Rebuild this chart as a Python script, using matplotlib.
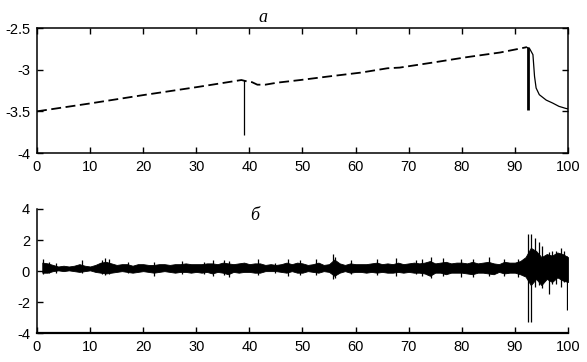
import numpy as np
import matplotlib
matplotlib.use('Agg')
import matplotlib.pyplot as plt

plt.rcParams['font.family'] = ['Liberation Sans']
plt.rcParams['axes.unicode_minus'] = False

# panel a: slow trend
trend_x = [0, 10, 20, 30, 33, 38.5, 39.5, 40.5, 41.5, 43, 45.2, 49.6, 54.7, 61, 66,
           68.3, 74.5, 80.9, 87.2, 91, 92.2]
trend_y = [-3.50, -3.405, -3.305, -3.21, -3.18, -3.124, -3.14, -3.15, -3.18, -3.18,
           -3.156, -3.124, -3.083, -3.035, -2.983, -2.975, -2.915, -2.85, -2.794,
           -2.746, -2.73]
decay_x = [92.2, 92.8, 93.4, 93.7, 94.0, 94.6, 95.9, 97.1, 98.3, 99.6, 100]
decay_y = [-2.73, -2.75, -2.82, -3.08, -3.22, -3.30, -3.365, -3.40, -3.44, -3.465, -3.47]
jump_x = [38.9, 92.4]
jump_lo = [-3.787, -3.485]
jump_hi = [-3.124, -2.73]
jump_w = [0.9, 2.0]

# panel b: envelope of the residual signal, one value per unit of x
noise_x = list(range(1, 101))
noise_hi = [0.55, 0.5, 0.4, 0.3, 0.35, 0.3, 0.35, 0.45, 0.35, 0.3,
            0.4, 0.55, 0.6, 0.5, 0.4, 0.45, 0.45, 0.35, 0.45, 0.45,
            0.4, 0.4, 0.45, 0.45, 0.4, 0.45, 0.45, 0.5, 0.45, 0.45,
            0.45, 0.5, 0.5, 0.45, 0.55, 0.5, 0.45, 0.5, 0.55, 0.45,
            0.5, 0.5, 0.4, 0.45, 0.4, 0.45, 0.55, 0.45, 0.55, 0.5,
            0.4, 0.45, 0.55, 0.4, 0.45, 0.75, 0.5, 0.4, 0.5, 0.45,
            0.45, 0.45, 0.5, 0.55, 0.45, 0.5, 0.45, 0.55, 0.45, 0.5,
            0.55, 0.5, 0.55, 0.65, 0.5, 0.55, 0.6, 0.5, 0.55, 0.55,
            0.5, 0.6, 0.5, 0.55, 0.6, 0.5, 0.45, 0.6, 0.55, 0.55,
            0.65, 0.9, 1.5, 1.3, 0.9, 1.1, 1.0, 1.2, 1.1, 0.9]
noise_lo = [-0.1, -0.1, 0.0, 0.05, 0.0, 0.05, 0.0, -0.05, 0.0, 0.05,
            -0.05, -0.1, -0.15, -0.1, -0.05, 0.0, -0.05, -0.1, -0.05, 0.0,
            -0.05, -0.1, -0.05, 0.0, -0.05, -0.1, -0.05, -0.05, -0.1, -0.05,
            -0.1, -0.05, -0.15, -0.05, -0.1, -0.2, -0.05, -0.1, -0.05, -0.05,
            -0.1, -0.1, 0.0, 0.0, 0.0, -0.05, -0.1, 0.0, -0.1, -0.1,
            0.0, -0.05, -0.1, 0.0, -0.05, -0.3, -0.1, 0.0, -0.1, -0.05,
            -0.05, -0.1, -0.05, -0.1, -0.05, -0.1, -0.1, -0.05, -0.1, -0.05,
            -0.1, -0.1, -0.15, -0.3, -0.1, -0.1, -0.2, -0.1, -0.1, -0.1,
            -0.15, -0.2, -0.1, -0.1, -0.15, -0.2, -0.05, -0.15, -0.1, -0.1,
            -0.2, -0.35, -0.9, -0.5, -0.9, -0.5, -0.7, -0.4, -0.6, -0.7]
# isolated spikes (hairlines) in panel b
spike_x = [1.2, 2.2, 3.6, 8.5, 12.3, 12.8, 13.6, 17.2, 22.1, 27.4, 31.5, 33.2,
           35.3, 36.1, 41.6, 44.8, 47.2, 49.5, 52.6, 55.8, 56.2, 59.1, 64.0,
           67.6, 71.3, 72.6, 74.2, 76.4, 79.8, 82.2, 85.1, 88.0, 90.6,
           92.4, 93.0, 93.8, 94.6, 95.2, 96.5, 97.0, 97.8, 98.6, 99.3, 99.8]
spike_lo = [-0.2, -0.15, -0.1, -0.1, -0.2, -0.25, -0.2, -0.15, -0.3, -0.2, -0.2, -0.3,
            -0.25, -0.35, -0.25, -0.15, -0.3, -0.25, -0.25, -0.5, -0.45, -0.2, -0.25,
            -0.3, -0.2, -0.3, -0.45, -0.3, -0.35, -0.35, -0.3, -0.3, -0.35,
            -3.25, -3.25, -1.0, -0.9, -1.1, -1.45, -0.8, -0.8, -1.0, -0.7, -2.5]
spike_hi = [0.75, 0.6, 0.5, 0.7, 0.7, 0.85, 0.75, 0.6, 0.6, 0.65, 0.6, 0.7,
            0.7, 0.65, 0.75, 0.55, 0.75, 0.7, 0.75, 1.1, 0.9, 0.7, 0.8,
            0.85, 0.7, 0.8, 0.9, 0.85, 0.75, 0.8, 0.9, 0.8, 0.8,
            2.4, 2.4, 2.15, 1.9, 1.6, 1.2, 1.3, 1.3, 1.5, 1.3, 1.0]

fig = plt.figure(figsize=(5.87, 3.62), dpi=100)
ax1 = fig.add_axes([0.063, 0.5773, 0.9046, 0.3453])
ax2 = fig.add_axes([0.063, 0.0793, 0.9046, 0.3434])

# --- panel a
ax1.plot(trend_x, trend_y, color='black', lw=1.3, linestyle=(0, (5.5, 2.5)))
ax1.plot(decay_x, decay_y, color='black', lw=0.9)
ax1.vlines(jump_x, jump_lo, jump_hi, colors='black', linewidths=jump_w)
ax1.set_xlim(0, 100)
ax1.set_ylim(-4, -2.5)
ax1.set_xticks(np.arange(0, 101, 10))
ax1.set_yticks([-2.5, -3, -3.5, -4])
ax1.set_yticklabels(['-2.5', '-3', '-3.5', '-4'])
ax1.tick_params(direction='in', length=4, top=True, right=True, labelsize=10.5,
                width=1, pad=5)
for s in ax1.spines.values():
    s.set_linewidth(1.1)
ax1.text(42.5, -2.375, 'а', family='Liberation Serif', style='italic',
         fontsize=13, ha='center', va='center')

# --- panel b
ax2.fill_between(noise_x, noise_lo, noise_hi, facecolor='black',
                 edgecolor='black', lw=0.6)
ax2.vlines(spike_x, spike_lo, spike_hi, colors='black', linewidths=0.9)
ax2.set_xlim(0, 100)
ax2.set_ylim(-4, 4)
ax2.set_xticks(np.arange(0, 101, 10))
ax2.set_yticks([4, 2, 0, -2, -4])
ax2.tick_params(direction='in', length=4, labelsize=10.5, width=1, pad=5)
ax2.spines['top'].set_visible(False)
ax2.spines['right'].set_visible(False)
ax2.spines['bottom'].set_linewidth(1.6)
ax2.spines['left'].set_linewidth(1.1)
ax2.text(41, 3.6, 'б', family='Liberation Serif', style='italic',
         fontsize=13, ha='center', va='center')

fig.savefig('out.png', dpi=100)
